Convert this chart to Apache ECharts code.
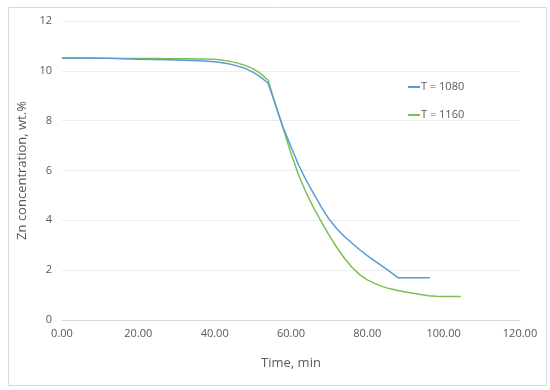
<!DOCTYPE html>
<html>
<head>
<meta charset="utf-8">
<script src="https://cdn.jsdelivr.net/npm/echarts@6/dist/echarts.min.js"></script>
<style>html,body{margin:0;padding:0;background:#fff;}#c{width:550px;height:390px;}</style>
</head>
<body>
<div id="c"></div>
<script>
const seriesNames = ["T = 1080", "T = 1160"];
const xTicks = [0, 20, 40, 60, 80, 100, 120];
const yTicks = [0, 2, 4, 6, 8, 10, 12];

const timeT1080 = [0, 4, 8, 12, 16, 20, 24, 28, 32, 36, 40, 42, 44, 46, 48, 50, 52, 54, 56, 58, 60, 62, 64, 66, 68, 70, 72, 74, 76, 78, 80, 82, 84, 86, 88, 90, 92, 94, 96.4];
const znT1080 = [10.52, 10.52, 10.51, 10.50, 10.48, 10.46, 10.45, 10.44, 10.42, 10.40, 10.36, 10.32, 10.27, 10.19, 10.10, 9.95, 9.76, 9.50, 8.62, 7.70, 6.95, 6.22, 5.60, 5.05, 4.52, 4.04, 3.66, 3.35, 3.08, 2.82, 2.58, 2.36, 2.15, 1.93, 1.70, 1.70, 1.70, 1.70, 1.70];

const timeT1160 = [0, 4, 8, 12, 16, 20, 24, 28, 32, 36, 40, 42, 44, 46, 48, 50, 52, 54, 56, 58, 60, 62, 64, 66, 68, 70, 72, 74, 76, 78, 80, 82, 84, 86, 88, 90, 92, 94, 96, 98, 100, 102, 104.5];
const znT1160 = [10.52, 10.52, 10.52, 10.51, 10.50, 10.49, 10.49, 10.48, 10.48, 10.47, 10.46, 10.43, 10.38, 10.31, 10.22, 10.09, 9.90, 9.62, 8.60, 7.66, 6.68, 5.82, 5.10, 4.48, 3.93, 3.40, 2.91, 2.48, 2.11, 1.82, 1.61, 1.46, 1.34, 1.25, 1.18, 1.12, 1.07, 1.02, 0.97, 0.95, 0.94, 0.94, 0.94];

const pairs = (xs, ys) => xs.map((x, i) => [x, ys[i]]);
const font = "'Open Sans', 'Liberation Sans', sans-serif";

const chart = echarts.init(document.getElementById('c'), null, {renderer: 'canvas'});
chart.setOption({
  animation: false,
  backgroundColor: '#ffffff',
  graphic: [{
    type: 'rect', left: 6, top: 5, silent: true,
    shape: {width: 538, height: 378},
    style: {fill: 'none', stroke: '#D9D9D9', lineWidth: 1}
  }],
  grid: {left: 62, right: 30, top: 21, bottom: 70},
  legend: {
    orient: 'vertical', left: 403, top: 75,
    itemGap: 14, itemWidth: 12, itemHeight: 2,
    icon: 'rect',
    textStyle: {color: '#595959', fontSize: 11, fontFamily: font, padding: [0, 0, 0, -4], lineHeight: 14},
    data: seriesNames
  },
  xAxis: {
    type: 'value', min: 0, max: 120, interval: 20,
    name: 'Time, min', nameLocation: 'middle', nameGap: 37,
    nameTextStyle: {color: '#595959', fontSize: 13, fontFamily: font},
    axisLine: {show: true, lineStyle: {color: '#D9D9D9'}},
    axisTick: {show: false},
    splitLine: {show: false},
    axisLabel: {color: '#595959', fontSize: 11, fontFamily: font, margin: 8,
      formatter: v => xTicks.includes(v) ? v.toFixed(2) : ''}
  },
  yAxis: {
    type: 'value', min: 0, max: 12, interval: 2,
    name: 'Zn concentration, wt.%', nameLocation: 'middle', nameGap: 32,
    nameTextStyle: {color: '#595959', fontSize: 13, fontFamily: font},
    axisLine: {show: false},
    axisTick: {show: false},
    splitLine: {show: true, lineStyle: {color: '#EDEDED'}},
    axisLabel: {color: '#595959', fontSize: 11, fontFamily: font, margin: 10,
      formatter: v => yTicks.includes(v) ? String(v) : ''}
  },
  series: [
    {name: seriesNames[0], type: 'line', data: pairs(timeT1080, znT1080), showSymbol: false, smooth: false,
     lineStyle: {color: '#5B9BD5', width: 1.5}, itemStyle: {color: '#5B9BD5'}, z: 3},
    {name: seriesNames[1], type: 'line', data: pairs(timeT1160, znT1160), showSymbol: false, smooth: false,
     lineStyle: {color: '#7DBF55', width: 1.5}, itemStyle: {color: '#7DBF55'}, z: 2}
  ]
});
</script>
</body>
</html>
